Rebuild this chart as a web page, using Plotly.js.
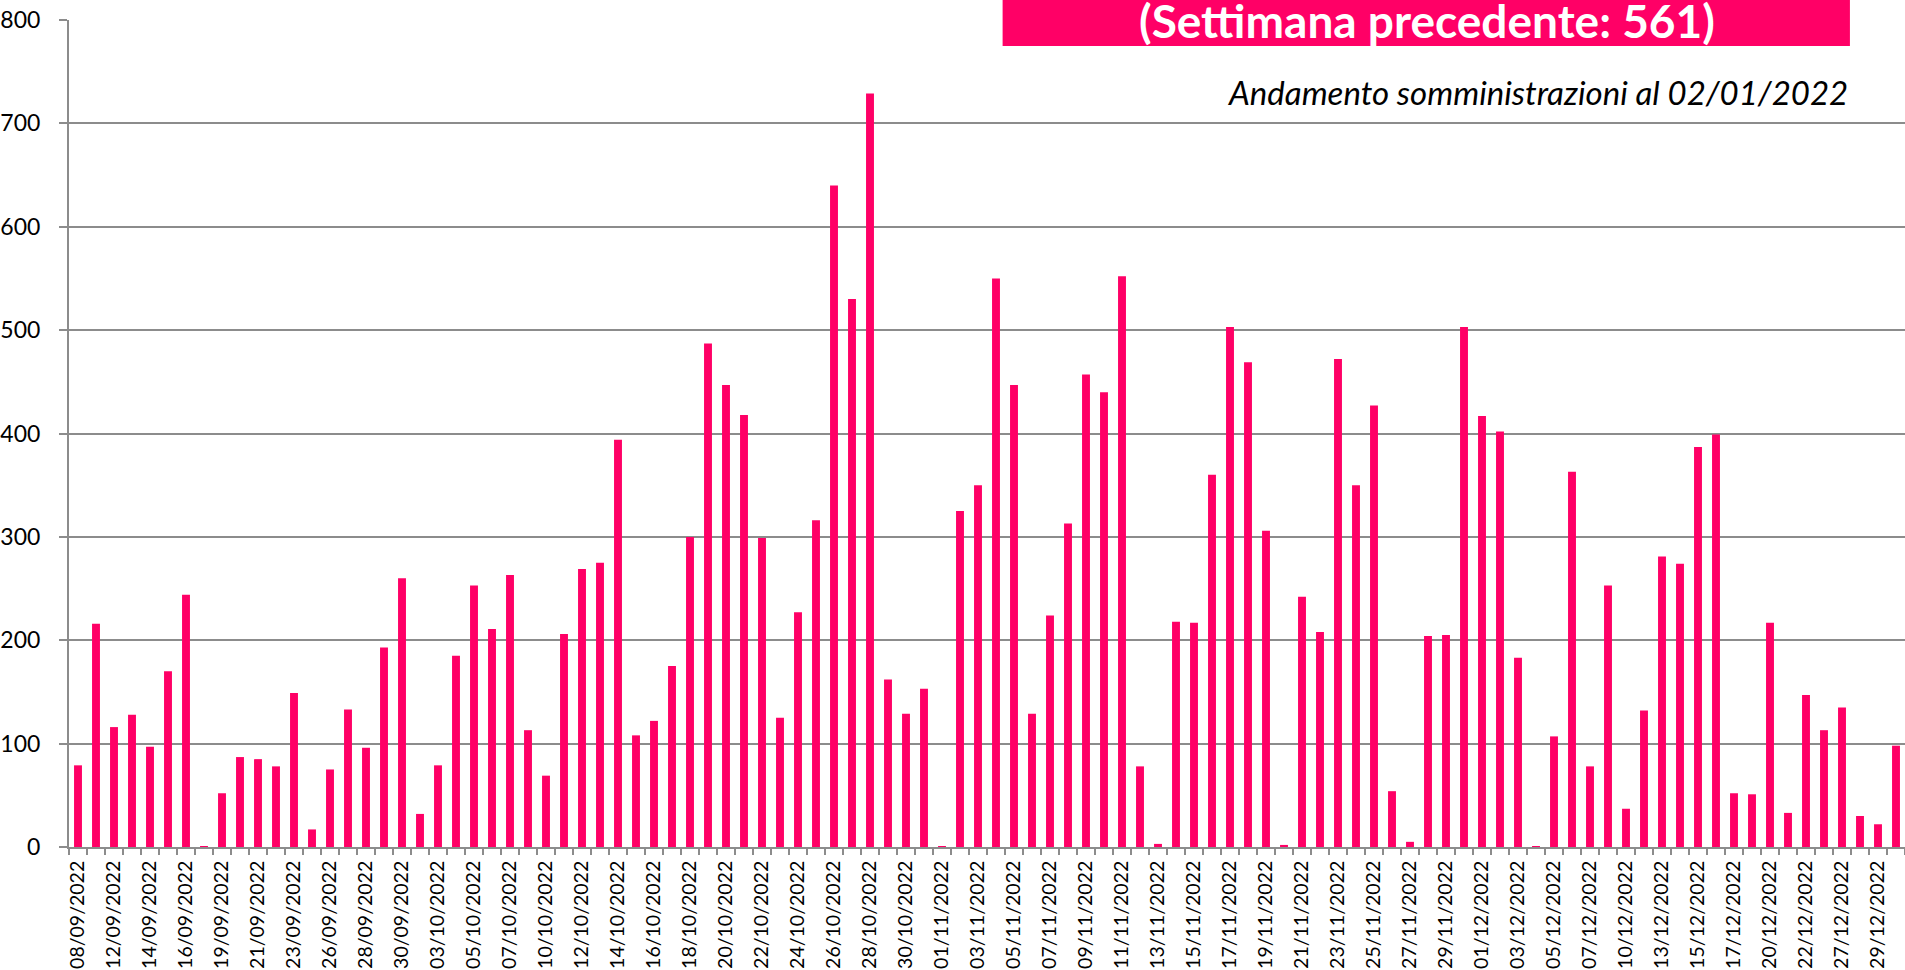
<!DOCTYPE html>
<html>
<head>
<meta charset="utf-8">
<script src="https://cdn.plot.ly/plotly-3.0.1.min.js"></script>
<style>
  html, body { margin: 0; padding: 0; background: #ffffff; }
  #chart { width: 1905px; height: 970px; }
</style>
</head>
<body>
<div id="chart"></div>
<script>
// Categories (dates)
const dates = [
  '08/09/2022','09/09/2022','12/09/2022','13/09/2022','14/09/2022','15/09/2022','16/09/2022','17/09/2022',
  '19/09/2022','20/09/2022','21/09/2022','22/09/2022','23/09/2022','24/09/2022',
  '26/09/2022','27/09/2022','28/09/2022','29/09/2022','30/09/2022','01/10/2022',
  '03/10/2022','04/10/2022','05/10/2022','06/10/2022','07/10/2022','08/10/2022',
  '10/10/2022','11/10/2022','12/10/2022','13/10/2022','14/10/2022','15/10/2022','16/10/2022',
  '17/10/2022','18/10/2022','19/10/2022','20/10/2022','21/10/2022','22/10/2022','23/10/2022',
  '24/10/2022','25/10/2022','26/10/2022','27/10/2022','28/10/2022','29/10/2022','30/10/2022','31/10/2022',
  '01/11/2022','02/11/2022','03/11/2022','04/11/2022','05/11/2022','06/11/2022','07/11/2022',
  '08/11/2022','09/11/2022','10/11/2022','11/11/2022','12/11/2022','13/11/2022','14/11/2022',
  '15/11/2022','16/11/2022','17/11/2022','18/11/2022','19/11/2022','20/11/2022','21/11/2022',
  '22/11/2022','23/11/2022','24/11/2022','25/11/2022','26/11/2022','27/11/2022','28/11/2022',
  '29/11/2022','30/11/2022','01/12/2022','02/12/2022','03/12/2022','04/12/2022','05/12/2022',
  '06/12/2022','07/12/2022','08/12/2022','10/12/2022','11/12/2022','13/12/2022','14/12/2022',
  '15/12/2022','16/12/2022','17/12/2022','18/12/2022','20/12/2022','21/12/2022','22/12/2022',
  '23/12/2022','27/12/2022','28/12/2022','29/12/2022','30/12/2022'
];

// Daily administrations
const somministrazioni = [
  79,216,116,128,97,170,244,1,52,87,
  85,78,149,17,75,133,96,193,260,32,
  79,185,253,211,263,113,69,206,269,275,
  394,108,122,175,300,487,447,418,299,125,
  227,316,640,530,729,162,129,153,1,325,
  350,550,447,129,224,313,457,440,552,78,
  3,218,217,360,503,469,306,2,242,208,
  472,350,427,54,5,204,205,503,417,402,
  183,1,107,363,78,253,37,132,281,274,
  387,399,52,51,217,33,147,113,135,30,
  22,98
];

// Tick labels: every second date shown
const tickLabels = dates.map((d, i) => (i % 2 === 0 ? d : ''));

const yTicks = [0, 100, 200, 300, 400, 500, 600, 700, 800];

const headline = '<b>(Settimana precedente: 561)</b>';
const subtitle = '<i>Andamento somministrazioni al 02/01/2022</i>';

const gridColor = '#8c8c8c';
const barColor = '#ff0066';

const trace = {
  type: 'bar',
  x: dates,
  y: somministrazioni,
  marker: { color: barColor, line: { width: 0 } },
  hoverinfo: 'x+y'
};

const layout = {
  width: 1905,
  height: 970,
  margin: { l: 69, r: 0, t: 20, b: 123, pad: 0 },
  paper_bgcolor: '#ffffff',
  plot_bgcolor: '#ffffff',
  font: { family: 'Lato, "Open Sans", sans-serif', color: '#000000' },
  showlegend: false,
  bargap: 0.56,
  xaxis: {
    type: 'category',
    categoryorder: 'array',
    categoryarray: dates,
    range: [-0.5, dates.length - 0.5],
    tickmode: 'array',
    tickvals: dates,
    ticktext: tickLabels,
    tickson: 'boundaries',
    ticks: 'outside',
    ticklen: 6,
    tickwidth: 1.5,
    tickcolor: gridColor,
    tickangle: -90,
    tickfont: { size: 19.5, color: '#000000' },
    ticklabelstandoff: 4,
    showgrid: false,
    showline: true,
    linecolor: gridColor,
    linewidth: 2,
    zeroline: false,
    fixedrange: true
  },
  yaxis: {
    range: [0, 800],
    tickmode: 'array',
    tickvals: yTicks,
    ticktext: yTicks.map(String),
    ticks: 'outside',
    ticklen: 8,
    tickwidth: 2,
    tickcolor: gridColor,
    tickfont: { size: 23, color: '#000000' },
    ticklabelstandoff: 14,
    showgrid: true,
    gridcolor: gridColor,
    gridwidth: 2,
    showline: true,
    linecolor: gridColor,
    linewidth: 2,
    zeroline: false,
    fixedrange: true
  },
  shapes: [
    {
      type: 'rect', xref: 'paper', yref: 'paper',
      x0: 0.5085, x1: 0.970, y0: 0.9686, y1: 1.06,
      fillcolor: barColor, line: { width: 0 }, layer: 'above'
    }
  ],
  annotations: [
    {
      xref: 'paper', yref: 'paper', x: 0.7394, y: 0.999,
      xanchor: 'center', yanchor: 'middle',
      text: headline, showarrow: false,
      font: { size: 46, color: '#ffffff', family: 'Lato, "Open Sans", sans-serif' }
    },
    {
      xref: 'paper', yref: 'paper', x: 0.970, y: 0.913,
      xanchor: 'right', yanchor: 'middle',
      text: subtitle, showarrow: false,
      font: { size: 33, color: '#000000', family: 'Lato, "Open Sans", sans-serif' }
    }
  ]
};

Plotly.newPlot('chart', [trace], layout, { displayModeBar: false, staticPlot: true });
</script>
</body>
</html>
